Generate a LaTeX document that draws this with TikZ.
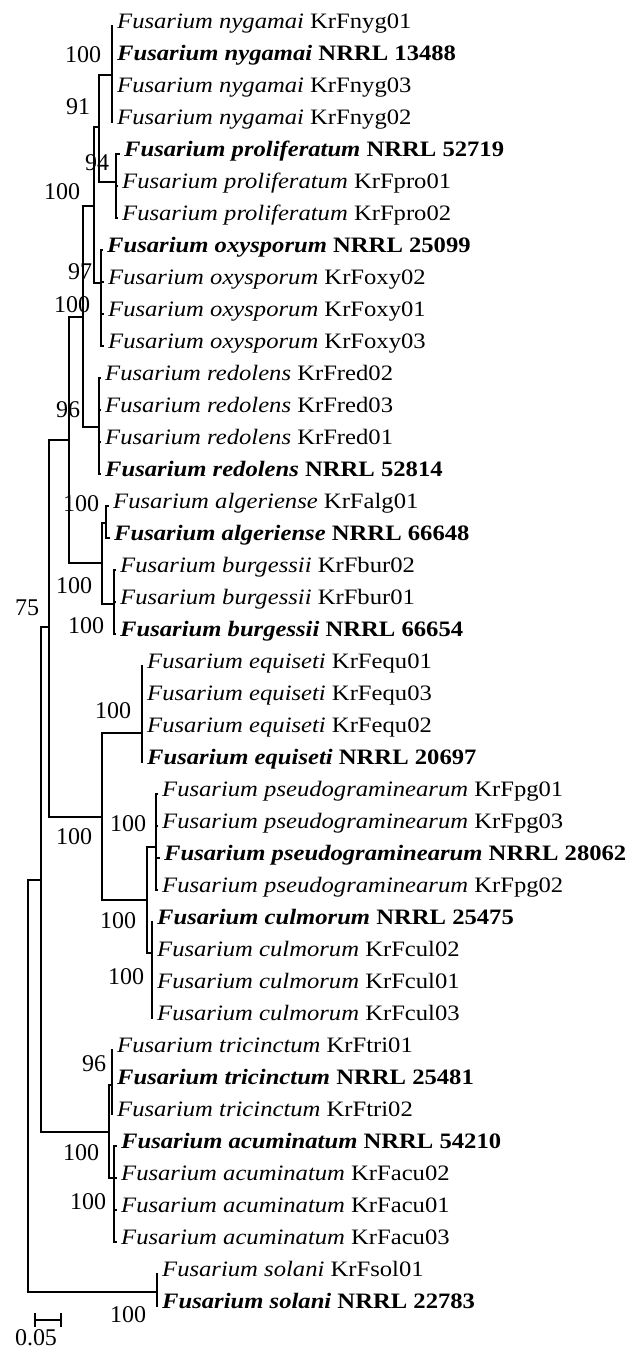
\documentclass[tikz,border=0pt]{standalone}
\usepackage{fontspec}
\setmainfont{Liberation Serif}[FakeStretch=1.12]
\newfontfamily\numfont{Liberation Serif}
\newcommand{\fuleaf}[4]{%
  \node[leaf] (t#1) at (#2, {28+32*#3}) {#4};
  \coordinate (k#1) at ({#2-4}, {26+32*#3});}
\begin{document}
\begin{tikzpicture}[x=1pt,y=-1pt,
  br/.style={line width=2.2pt},
  leaf/.style={anchor=base west, inner sep=0pt, font=\fontsize{22}{26}\selectfont},
  bs/.style={inner sep=0pt, font=\numfont\fontsize{24}{28}\selectfont}]
\useasboundingbox (0,0) rectangle (629,1349);
% leaves
\fuleaf{0}{117}{0}{\textit{Fusarium nygamai} KrFnyg01}
\fuleaf{1}{117}{1}{\textbf{\textit{Fusarium nygamai} NRRL 13488}}
\fuleaf{2}{117}{2}{\textit{Fusarium nygamai} KrFnyg03}
\fuleaf{3}{117}{3}{\textit{Fusarium nygamai} KrFnyg02}
\fuleaf{4}{124}{4}{\textbf{\textit{Fusarium proliferatum} NRRL 52719}}
\fuleaf{5}{122}{5}{\textit{Fusarium proliferatum} KrFpro01}
\fuleaf{6}{122}{6}{\textit{Fusarium proliferatum} KrFpro02}
\fuleaf{7}{107}{7}{\textbf{\textit{Fusarium oxysporum} NRRL 25099}}
\fuleaf{8}{108}{8}{\textit{Fusarium oxysporum} KrFoxy02}
\fuleaf{9}{108}{9}{\textit{Fusarium oxysporum} KrFoxy01}
\fuleaf{10}{108}{10}{\textit{Fusarium oxysporum} KrFoxy03}
\fuleaf{11}{105}{11}{\textit{Fusarium redolens} KrFred02}
\fuleaf{12}{105}{12}{\textit{Fusarium redolens} KrFred03}
\fuleaf{13}{105}{13}{\textit{Fusarium redolens} KrFred01}
\fuleaf{14}{105}{14}{\textbf{\textit{Fusarium redolens} NRRL 52814}}
\fuleaf{15}{113}{15}{\textit{Fusarium algeriense} KrFalg01}
\fuleaf{16}{114}{16}{\textbf{\textit{Fusarium algeriense} NRRL 66648}}
\fuleaf{17}{120}{17}{\textit{Fusarium burgessii} KrFbur02}
\fuleaf{18}{120}{18}{\textit{Fusarium burgessii} KrFbur01}
\fuleaf{19}{120}{19}{\textbf{\textit{Fusarium burgessii} NRRL 66654}}
\fuleaf{20}{147}{20}{\textit{Fusarium equiseti} KrFequ01}
\fuleaf{21}{147}{21}{\textit{Fusarium equiseti} KrFequ03}
\fuleaf{22}{147}{22}{\textit{Fusarium equiseti} KrFequ02}
\fuleaf{23}{147}{23}{\textbf{\textit{Fusarium equiseti} NRRL 20697}}
\fuleaf{24}{162}{24}{\textit{Fusarium pseudograminearum} KrFpg01}
\fuleaf{25}{162}{25}{\textit{Fusarium pseudograminearum} KrFpg03}
\fuleaf{26}{164}{26}{\textbf{\textit{Fusarium pseudograminearum} NRRL 28062}}
\fuleaf{27}{162}{27}{\textit{Fusarium pseudograminearum} KrFpg02}
\fuleaf{28}{157}{28}{\textbf{\textit{Fusarium culmorum} NRRL 25475}}
\fuleaf{29}{157}{29}{\textit{Fusarium culmorum} KrFcul02}
\fuleaf{30}{157}{30}{\textit{Fusarium culmorum} KrFcul01}
\fuleaf{31}{157}{31}{\textit{Fusarium culmorum} KrFcul03}
\fuleaf{32}{117}{32}{\textit{Fusarium tricinctum} KrFtri01}
\fuleaf{33}{117}{33}{\textbf{\textit{Fusarium tricinctum} NRRL 25481}}
\fuleaf{34}{117}{34}{\textit{Fusarium tricinctum} KrFtri02}
\fuleaf{35}{121}{35}{\textbf{\textit{Fusarium acuminatum} NRRL 54210}}
\fuleaf{36}{121}{36}{\textit{Fusarium acuminatum} KrFacu02}
\fuleaf{37}{121}{37}{\textit{Fusarium acuminatum} KrFacu01}
\fuleaf{38}{121}{38}{\textit{Fusarium acuminatum} KrFacu03}
\fuleaf{39}{162}{39}{\textit{Fusarium solani} KrFsol01}
\fuleaf{40}{162}{40}{\textbf{\textit{Fusarium solani} NRRL 22783}}
% internal nodes
\coordinate (nyg) at (112,75);
\coordinate (pro) at (116,182);
\coordinate (np) at (99,127);
\coordinate (oxy) at (101,283);
\coordinate (npo) at (94,206);
\coordinate (red) at (99,427);
\coordinate (npor) at (83,317);
\coordinate (alg) at (106,523);
\coordinate (bur) at (114,604);
\coordinate (ab) at (102,563);
\coordinate (A) at (69,440);
\coordinate (equ) at (142,733);
\coordinate (pg) at (156,847);
\coordinate (cul) at (152,953);
\coordinate (pc) at (147,900);
\coordinate (epc) at (102,817);
\coordinate (B) at (49,627);
\coordinate (tri) at (112,1085);
\coordinate (acu) at (114,1178);
\coordinate (ta) at (109,1132);
\coordinate (C) at (41,880);
\coordinate (sol) at (157,1292);
\coordinate (root) at (28,1086);
% internal branches
\draw[br] (root) |- (C);
\draw[br] (root) |- (sol);
\draw[br] (C) |- (B);
\draw[br] (C) |- (ta);
\draw[br] (B) |- (A);
\draw[br] (B) |- (epc);
\draw[br] (A) |- (npor);
\draw[br] (A) |- (ab);
\draw[br] (npor) |- (npo);
\draw[br] (npor) |- (red);
\draw[br] (npo) |- (np);
\draw[br] (npo) |- (oxy);
\draw[br] (np) |- (nyg);
\draw[br] (np) |- (pro);
\draw[br] (ab) |- (alg);
\draw[br] (ab) |- (bur);
\draw[br] (epc) |- (equ);
\draw[br] (epc) |- (pc);
\draw[br] (pc) |- (pg);
\draw[br] (pc) |- (cul);
\draw[br] (ta) |- (tri);
\draw[br] (ta) |- (acu);
% leaf branches
\foreach \i in {0,1,2,3} \draw[br] (nyg) |- (k\i);
\foreach \i in {4,5,6} \draw[br] (pro) |- (k\i);
\foreach \i in {7,8,9,10} \draw[br] (oxy) |- (k\i);
\foreach \i in {11,12,13,14} \draw[br] (red) |- (k\i);
\foreach \i in {15,16} \draw[br] (alg) |- (k\i);
\foreach \i in {17,18,19} \draw[br] (bur) |- (k\i);
\foreach \i in {20,21,22,23} \draw[br] (equ) |- (k\i);
\foreach \i in {24,25,26,27} \draw[br] (pg) |- (k\i);
\foreach \i in {28,29,30,31} \draw[br] (cul) |- (k\i);
\foreach \i in {32,33,34} \draw[br] (tri) |- (k\i);
\foreach \i in {35,36,37,38} \draw[br] (acu) |- (k\i);
\foreach \i in {39,40} \draw[br] (sol) |- (k\i);
% bootstrap values
\node[bs] (b1) at (83,55) {100};
\node[bs] (b2) at (78,107) {91};
\node[bs] (b3) at (97,163) {94};
\node[bs] (b4) at (62,192) {100};
\node[bs] (b5) at (80,272) {97};
\node[bs] (b6) at (72,305) {100};
\node[bs] (b7) at (68,410) {96};
\node[bs] (b8) at (81,504) {100};
\node[bs] (b9) at (74,586) {100};
\node[bs] (b10) at (86,626) {100};
\node[bs] (b11) at (27,608) {75};
\node[bs] (b12) at (113,711) {100};
\node[bs] (b13) at (128,824) {100};
\node[bs] (b14) at (74,837) {100};
\node[bs] (b15) at (118,921) {100};
\node[bs] (b16) at (126,977) {100};
\node[bs] (b17) at (94,1064) {96};
\node[bs] (b18) at (81,1153) {100};
\node[bs] (b19) at (88,1202) {100};
\node[bs] (b20) at (128,1315) {100};
% scale bar
\coordinate (s1) at (35,1320);
\coordinate (s2) at (61,1320);
\draw[br] (s1) -- (s2);
\draw[br] ([yshift=7pt]s1) -- ([yshift=-7pt]s1);
\draw[br] ([yshift=7pt]s2) -- ([yshift=-7pt]s2);
\node[bs, anchor=base] (sc) at (36,1345) {0.05};
\end{tikzpicture}
\end{document}
